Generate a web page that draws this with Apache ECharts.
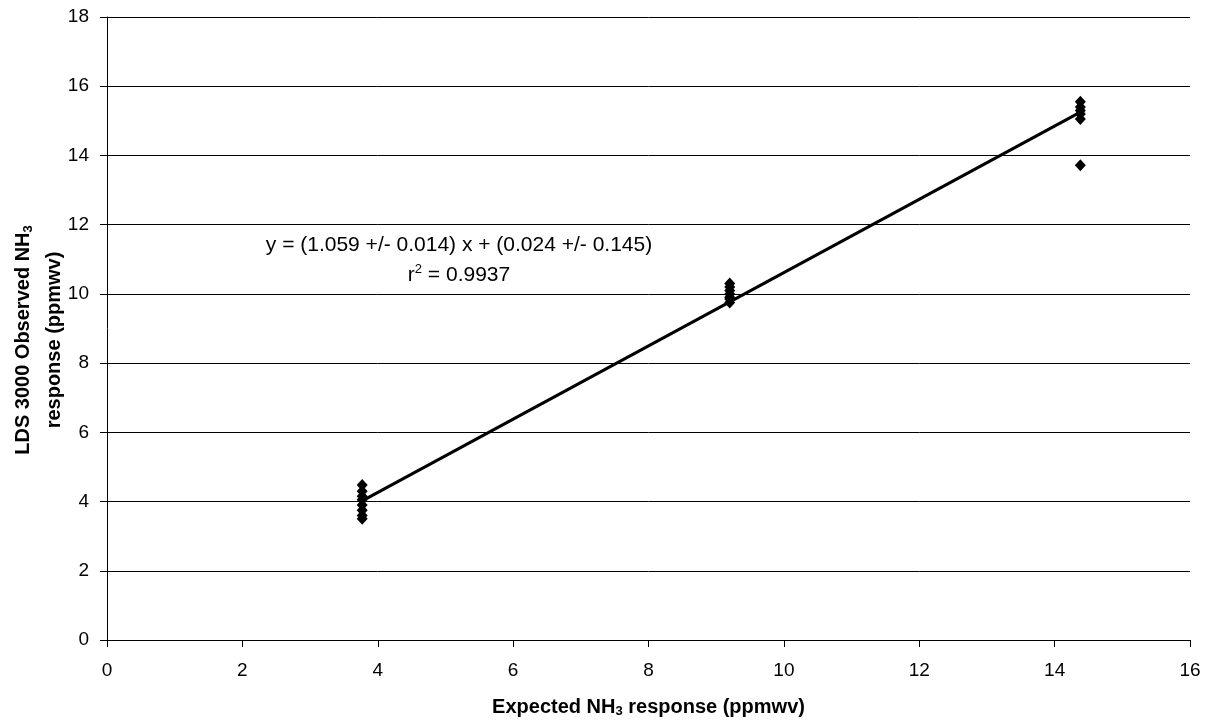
<!DOCTYPE html>
<html>
<head>
<meta charset="utf-8">
<script src="https://cdn.jsdelivr.net/npm/echarts@6/dist/echarts.min.js"></script>
<style>
  html, body { margin: 0; padding: 0; background: #fff; }
  #chart { width: 1206px; height: 721px; }
</style>
</head>
<body>
<div id="chart"></div>
<script>
// observed points
const expected38 = [3.77, 3.77, 3.77, 3.77, 3.77, 3.77, 3.77, 3.77];
const observed38 = [4.48, 4.3, 4.15, 4.05, 3.9, 3.75, 3.6, 3.5];
const expected92 = [9.2, 9.2, 9.2, 9.2, 9.2, 9.2, 9.2];
const observed92 = [10.3, 10.2, 10.1, 10.0, 9.9, 9.85, 9.75];
const expected144 = [14.38, 14.38, 14.38, 14.38, 14.38, 14.38];
const observed144 = [15.55, 15.4, 15.3, 15.2, 15.05, 13.72];

// regression line end points
const fitX = [3.77, 14.38];
const fitY = [4.02, 15.25];

const xMin = 0, xMax = 16, xStep = 2;
const yMin = 0, yMax = 18, yStep = 2;

const pairs = (xs, ys) => xs.map((x, i) => [x, ys[i]]);
const points = [].concat(
  pairs(expected38, observed38),
  pairs(expected92, observed92),
  pairs(expected144, observed144)
);

const font = "Liberation Sans, Arial, sans-serif";

const chart = echarts.init(document.getElementById("chart"));
chart.setOption({
  animation: false,
  grid: { left: 107, right: 16, top: 17, bottom: 81, outerBoundsMode: "none", containLabel: false },
  xAxis: {
    type: "value",
    min: xMin,
    max: xMax,
    interval: xStep,
    splitLine: { show: false },
    axisLine: { onZero: false, lineStyle: { color: "#000", width: 1 } },
    axisTick: { show: true, inside: false, length: 7, lineStyle: { color: "#000" } },
    axisLabel: { color: "#000", fontSize: 19, fontFamily: font, margin: 21 },
    name: "{b|Expected NH}{s|3}{b| response (ppmwv)}",
    nameLocation: "middle",
    nameGap: 56,
    nameTextStyle: {
      rich: {
        b: { fontSize: 20, fontWeight: "bold", fontFamily: font, color: "#000" },
        s: { fontSize: 13, fontWeight: "bold", fontFamily: font, color: "#000", padding: [9, 0, 0, 0] },
      },
    },
  },
  yAxis: {
    type: "value",
    min: yMin,
    max: yMax,
    interval: yStep,
    splitLine: { show: true, lineStyle: { color: "#000", width: 1 } },
    axisLine: { show: true, onZero: false, lineStyle: { color: "#000", width: 1 } },
    axisTick: { show: true, inside: false, length: 7, lineStyle: { color: "#000" } },
    axisLabel: { color: "#000", fontSize: 19, fontFamily: font, margin: 18 },
  },
  graphic: [
    {
      type: "text",
      x: 8,
      y: 340,
      rotation: Math.PI / 2,
      style: {
        text: "{b|LDS 3000 Observed NH}{s|3}\n{b|response (ppmwv)}",
        align: "center",
        verticalAlign: "top",
        rich: {
          b: { fontSize: 20, fontWeight: "bold", fontFamily: font, fill: "#000", lineHeight: 31 },
          s: { fontSize: 13, fontWeight: "bold", fontFamily: font, fill: "#000", padding: [9, 0, 0, 0], lineHeight: 31 },
        },
      },
    },
    {
      type: "text",
      x: 459,
      y: 230,
      style: {
        text: "{t|y = (1.059 +/- 0.014) x + (0.024 +/- 0.145)}\n{t|r}{p|2}{t| = 0.9937}",
        align: "center",
        verticalAlign: "top",
        rich: {
          t: { fontSize: 21, fontFamily: font, fill: "#000", lineHeight: 30 },
          p: { fontSize: 13, fontFamily: font, fill: "#000", padding: [0, 0, 12, 0], lineHeight: 30 },
        },
      },
    },
  ],
  series: [
    {
      type: "scatter",
      data: points,
      symbol: "diamond",
      symbolSize: [11, 12],
      itemStyle: { color: "#000", opacity: 1 },
      z: 3,
    },
    {
      type: "line",
      data: pairs(fitX, fitY),
      symbol: "none",
      lineStyle: { color: "#000", width: 3 },
      z: 2,
    },
  ],
});
</script>
</body>
</html>
